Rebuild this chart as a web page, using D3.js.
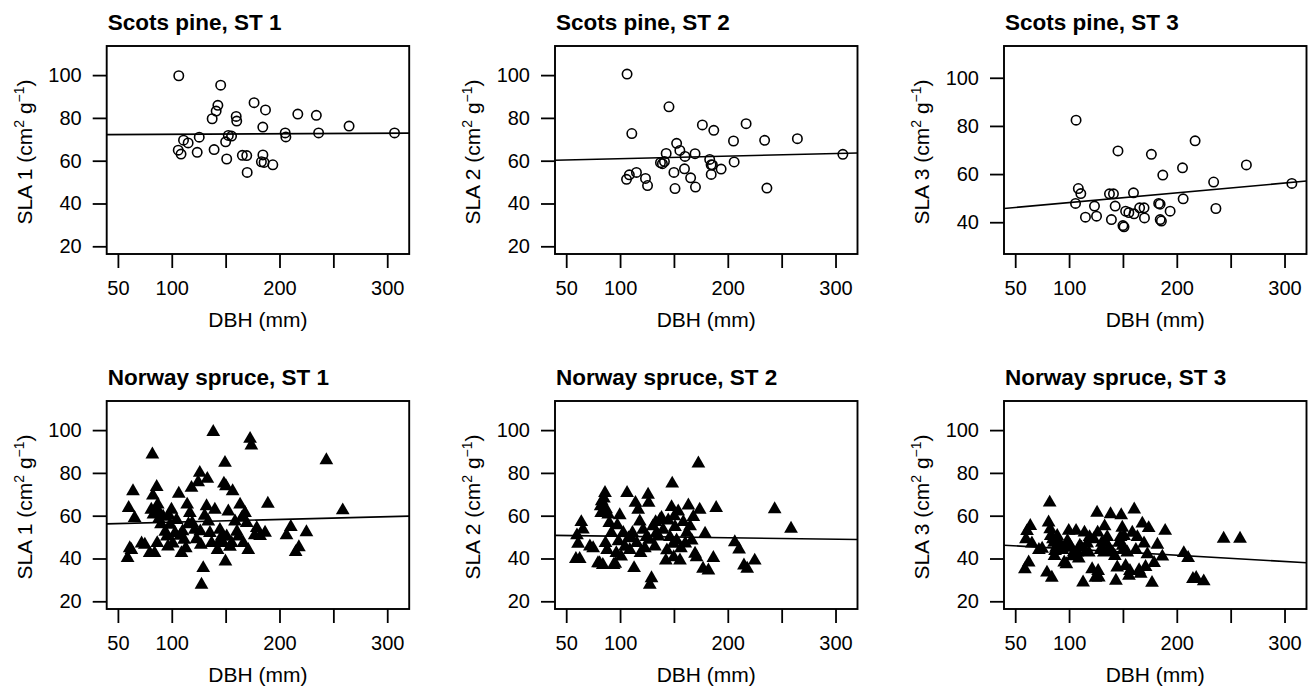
<!DOCTYPE html>
<html>
<head>
<meta charset="utf-8">
<script src="https://cdn.jsdelivr.net/npm/d3@7"></script>
<style>
  body { margin: 0; background: #fff; }
  svg { display: block; font-family: "Liberation Sans", Arial, Helvetica, sans-serif; }
</style>
</head>
<body>
<svg width="1312" height="688"></svg>
<script>
// ---- data ----
const pineDbh  = [106.5, 106.0, 108.6, 110.9, 115.2, 123.6, 125.5, 137.5, 139.3, 141.2, 142.8, 145.4,
                  150.0, 151.0, 152.5, 155.5, 159.8, 160.3, 165.5, 169.6, 170.0, 176.4, 183.2, 184.5,
                  184.6, 185.7, 187.0, 193.8, 205.3, 205.9, 217.0, 234.2, 236.3, 264.6, 306.8];
const pineSla1 = [99.7, 64.9, 63.1, 69.6, 68.3, 63.9, 71.0, 79.6, 65.2, 83.2, 85.9, 95.3,
                  68.8, 60.8, 71.8, 71.5, 80.7, 78.5, 62.5, 62.4, 54.5, 87.1, 59.5, 75.7,
                  62.7, 59.2, 83.7, 58.1, 73.0, 71.1, 81.8, 81.2, 73.0, 76.2, 73.0];
const pineSla2 = [100.5, 51.3, 53.4, 72.7, 54.5, 51.7, 48.4, 59.1, 58.6, 59.6, 63.4, 85.2,
                  54.5, 47.0, 68.1, 64.8, 56.2, 62.0, 52.0, 63.3, 47.7, 76.7, 60.6, 58.1,
                  53.6, 58.0, 74.2, 56.1, 69.2, 59.4, 77.3, 69.5, 47.2, 70.3, 63.0];
const pineSla3 = [82.4, 47.8, 54.0, 51.9, 42.1, 46.7, 42.5, 51.8, 41.1, 51.8, 46.7, 69.6,
                  38.6, 38.1, 44.6, 44.0, 52.2, 43.5, 46.0, 46.0, 41.8, 68.2, 47.8, 47.5,
                  41.1, 40.5, 59.6, 44.6, 62.6, 49.7, 73.8, 56.7, 45.7, 63.8, 56.1];

const spruceDbh  = [59, 60, 61, 62.5, 64, 65.5,
                    72, 75, 79.5,
                    81, 82, 82.5, 83, 84, 85, 86, 86.5, 87, 88, 89, 90, 92, 94,
                    95.5, 96.5, 97.5, 98.5, 99.7, 101, 103, 104.5, 106.5, 107.8, 109, 110,
                    111.5, 113, 114.3, 115.5, 116.8, 118.3, 119, 121.4, 123, 124.5,
                    126, 126.5, 127, 127.6, 129.2, 130.5, 132.3, 133, 133.9, 135.4, 137, 138.5, 140,
                    142.5, 143.5, 144.7, 146.3, 147.8, 148.4, 149.4, 149.8, 150.3, 151, 152.5, 154, 155.6, 156.5, 158.7,
                    160.5, 162, 163.4, 165, 166.5, 168, 169.6, 171, 172.7, 173.9, 177, 178.9,
                    182, 186.6, 189.2,
                    206.5, 210.5, 215, 218, 225,
                    243.5, 258.7];
const spruceSla1 = [40.2, 63.6, 44.8, 44.0, 71.4, 58.9,
                    47.0, 46.4, 42.5,
                    62.8, 88.6, 69.4, 60.5, 42.5, 63.0, 73.4, 47.2, 65.2, 58.5, 61.0, 56.0, 59.5, 52.5,
                    50.3, 45.6, 60.0, 55.8, 62.8, 47.0, 51.9, 58.0, 70.3, 50.6, 42.5, 52.7,
                    48.7, 44.8, 65.2, 56.0, 61.3, 73.0, 56.6, 53.4, 49.0, 75.6,
                    80.0, 52.7, 46.4, 27.7, 35.5, 60.0, 64.4, 77.2, 57.3, 51.9, 47.2, 99.1, 62.8,
                    44.0, 47.2, 53.4, 50.3, 47.2, 75.0, 84.7, 38.6, 73.8, 50.3, 62.0, 45.5, 47.2, 71.4, 57.3,
                    52.5, 50.3, 65.2, 59.0, 47.2, 61.3, 56.6, 44.0, 95.9, 92.8, 50.8, 54.2,
                    50.5, 52.0, 65.6,
                    50.8, 54.7, 43.0, 45.3, 52.3,
                    85.9, 62.5];
const spruceSla2 = [39.8, 50.8, 46.9, 39.8, 57.0, 53.5,
                    45.6, 44.8, 37.8,
                    37.8, 64.4, 61.3, 66.7, 37.0, 68.0, 70.6, 47.2, 63.0, 44.0, 60.5, 56.6, 51.9, 37.0,
                    37.5, 42.5, 55.5, 48.0, 60.2, 40.9, 51.9, 45.5, 70.6, 49.5, 44.0, 50.0,
                    51.9, 35.5, 66.0, 47.2, 62.8, 57.3, 42.5, 53.4, 44.8, 50.0,
                    69.8, 66.0, 48.7, 27.7, 30.8, 55.0, 45.6, 57.0, 52.0, 50.3, 58.0, 59.0, 53.4,
                    39.0, 43.8, 57.8, 50.0, 64.0, 75.0, 46.9, 40.6, 59.7, 54.7, 48.4, 62.0, 39.1, 44.8, 57.0,
                    47.0, 52.0, 64.8, 55.0, 48.4, 59.4, 42.2, 40.6, 84.4, 62.8, 35.2, 51.6,
                    34.4, 40.2, 63.6,
                    47.6, 44.2, 36.7, 35.2, 39.0,
                    63.0, 53.9];
const spruceSla3 = [35.0, 49.0, 52.8, 38.1, 55.2, 47.0,
                    44.0, 44.6, 33.4,
                    56.8, 66.1, 53.7, 50.5, 31.0, 49.0, 47.4, 41.2, 43.5, 45.0, 50.5, 47.0, 46.7, 44.0,
                    38.1, 45.0, 37.3, 48.2, 52.9, 45.9, 41.0, 43.0, 52.9, 42.8, 40.0, 46.0,
                    45.0, 28.8, 52.1, 43.0, 47.0, 42.8, 50.0, 35.0, 49.0, 31.0,
                    61.4, 52.1, 34.2, 31.1, 44.0, 47.4, 42.8, 55.0, 47.4, 50.0, 45.0, 60.7, 43.0,
                    41.2, 29.6, 35.8, 47.4, 50.0, 60.2, 54.4, 46.0, 44.0, 50.5, 36.5, 42.8, 31.9, 34.2, 52.0,
                    62.9, 44.0, 50.0, 34.5, 32.9, 56.3, 47.0, 36.0, 42.0, 54.2, 28.6, 37.9,
                    46.4, 40.9, 52.9,
                    42.5, 40.2, 30.4, 30.9, 29.3,
                    49.2, 49.2];

// fitted lines (intercept, slope) per panel, row-wise
const fitIntercept = [72.10, 59.72, 44.09, 55.69, 51.07, 47.36];
const fitSlope     = [0.0025, 0.0121, 0.0406, 0.0128, -0.0068, -0.0292];

const panelTitles = ["Scots pine, ST 1", "Scots pine, ST 2", "Scots pine, ST 3",
                     "Norway spruce, ST 1", "Norway spruce, ST 2", "Norway spruce, ST 3"];
const xLim = [50, 310];
const yLims = [[20, 110], [20, 110], [30, 110], [20, 110], [20, 110], [20, 110]];
const xTicks = [50, 100, 150, 200, 250, 300];
const xTickLabels = ["50", "100", "", "200", "", "300"];
const yTicks = [20, 40, 60, 80, 100];

// ---- layout ----
const svg = d3.select("svg");
const boxW = 302.5, boxH = 208;
const colLeft = [106.7, 555, 1004];
const rowTop = [46, 401];

// R style 4% axis extension
const ext = lim => { const d = (lim[1] - lim[0]) * 0.04; return [lim[0] - d, lim[1] + d]; };

const species = [
  { dbh: pineDbh, sla: [pineSla1, pineSla2, pineSla3], shape: "circle" },
  { dbh: spruceDbh, sla: [spruceSla1, spruceSla2, spruceSla3], shape: "triangle" }
];

species.forEach((sp, r) => {
  sp.sla.forEach((sla, c) => {
    const k = r * 3 + c;
    const g = svg.append("g")
      .attr("transform", `translate(${colLeft[c]},${rowTop[r]})`);

    const x = d3.scaleLinear().domain(ext(xLim)).range([0, boxW]);
    const y = d3.scaleLinear().domain(ext(yLims[k])).range([boxH, 0]);

    const xAxis = g.append("g")
      .attr("transform", `translate(0,${boxH})`)
      .call(d3.axisBottom(x).tickValues(xTicks)
        .tickFormat((d, i) => xTickLabels[i]).tickSize(14).tickPadding(13));
    const yAxis = g.append("g")
      .call(d3.axisLeft(y).tickValues(yTicks.filter(t => t >= yLims[k][0] && t <= yLims[k][1]))
        .tickSize(14).tickPadding(11));
    [xAxis, yAxis].forEach(a => {
      a.select(".domain").remove();
      a.attr("font-size", 20).attr("font-family", null);
      a.selectAll(".tick line").attr("stroke-width", 1.8);
      a.selectAll(".tick text").attr("fill", "#000");
    });

    // regression line
    const x0 = x.domain()[0], x1 = x.domain()[1];
    g.append("line")
      .attr("x1", x(x0)).attr("y1", y(fitIntercept[k] + fitSlope[k] * x0))
      .attr("x2", x(x1)).attr("y2", y(fitIntercept[k] + fitSlope[k] * x1))
      .attr("stroke", "#000").attr("stroke-width", 1.6);

    const pts = d3.zip(sp.dbh, sla);
    if (sp.shape === "circle") {
      g.selectAll("circle.pt").data(pts).join("circle")
        .attr("class", "pt")
        .attr("cx", d => x(d[0])).attr("cy", d => y(d[1]))
        .attr("r", 4.7)
        .attr("fill", "none").attr("stroke", "#000").attr("stroke-width", 1.6);
    } else {
      const tri = d3.symbol(d3.symbolTriangle, 82)();
      g.selectAll("path.pt").data(pts).join("path")
        .attr("class", "pt")
        .attr("d", tri)
        .attr("transform", d => `translate(${x(d[0])},${y(d[1])})`)
        .attr("fill", "#000");
    }

    g.append("rect")
      .attr("width", boxW).attr("height", boxH)
      .attr("fill", "none").attr("stroke", "#000").attr("stroke-width", 1.9);

    g.append("text")
      .attr("x", 1).attr("y", -16)
      .attr("font-size", 22.5).attr("font-weight", "bold")
      .text(panelTitles[k]);

    g.append("text")
      .attr("x", boxW / 2).attr("y", boxH + 73)
      .attr("text-anchor", "middle").attr("font-size", 21)
      .text("DBH (mm)");

    const yl = g.append("text")
      .attr("transform", `translate(-75,${boxH / 2 + 2}) rotate(-90)`)
      .attr("text-anchor", "middle").attr("font-size", 21);
    yl.append("tspan").text(`SLA ${c + 1} (cm`);
    yl.append("tspan").attr("font-size", 14).attr("dy", -8).text("2");
    yl.append("tspan").attr("dy", 8).text(" g");
    yl.append("tspan").attr("font-size", 14).attr("dy", -8).text("\u22121");
    yl.append("tspan").attr("dy", 8).text(")");
  });
});
</script>
</body>
</html>
